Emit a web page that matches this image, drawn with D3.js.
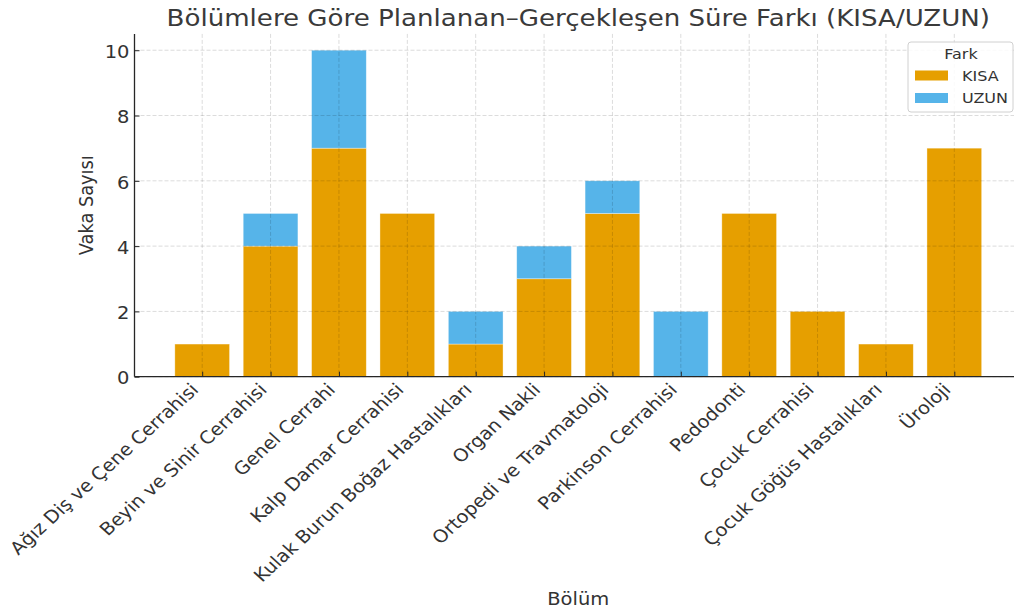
<!DOCTYPE html>
<html>
<head>
<meta charset="utf-8">
<script src="https://cdn.jsdelivr.net/npm/d3@7"></script>
<style>
  html, body { margin: 0; padding: 0; background: #fff; }
  svg { display: block; }
  svg text { font-family: "DejaVu Sans", sans-serif; }
</style>
</head>
<body>
<svg id="chart" width="1014" height="611"></svg>
<script>
// Case counts per department, split by planned vs. actual duration difference
const departments = [
  "Ağız Diş ve Çene Cerrahisi",
  "Beyin ve Sinir Cerrahisi",
  "Genel Cerrahi",
  "Kalp Damar Cerrahisi",
  "Kulak Burun Boğaz Hastalıkları",
  "Organ Nakli",
  "Ortopedi ve Travmatoloji",
  "Parkinson Cerrahisi",
  "Pedodonti",
  "Çocuk Cerrahisi",
  "Çocuk Göğüs Hastalıkları",
  "Üroloji"
];
const kisa = [1, 4, 7, 5, 1, 3, 5, 0, 5, 2, 1, 7];
const uzun = [0, 1, 3, 0, 1, 1, 1, 2, 0, 0, 0, 0];
const seriesKeys = ["KISA", "UZUN"];
const seriesColors = ["#E69F00", "#56B4E9"];
const yTicks = [0, 2, 4, 6, 8, 10];

const titleText = "Bölümlere Göre Planlanan–Gerçekleşen Süre Farkı (KISA/UZUN)";
const xLabel = "Bölüm";
const yLabel = "Vaka Sayısı";
const legendTitle = "Fark";

const FONT = "'DejaVu Sans', sans-serif";
const svg = d3.select("#chart");
const textColor = "#333333";
// glyphs are drawn slightly compressed vertically (figure aspect)
const SQ = 0.91;

// plot frame (right edge extends past the canvas)
const plotLeft = 134.5, plotRight = 1022, plotTop = 33.9, plotBottom = 376.7;

const x = d3.scaleLinear().domain([-0.99, departments.length - 1 + 0.99]).range([plotLeft, plotRight]);
const y = d3.scaleLinear().domain([0, 10.5]).range([plotBottom, plotTop]);
const barW = x(0.8) - x(0);

const rows = departments.map((d, i) => ({ dep: d, KISA: kisa[i], UZUN: uzun[i], i }));
const stacked = d3.stack().keys(seriesKeys)(rows);
const color = d3.scaleOrdinal().domain(seriesKeys).range(seriesColors);

// bars
svg.append("g").selectAll("g")
  .data(stacked)
  .join("g")
  .attr("fill", d => color(d.key))
  .selectAll("rect")
  .data(d => d.filter(s => s[1] - s[0] > 0))
  .join("rect")
  .attr("x", d => x(d.data.i) - barW / 2)
  .attr("width", barW)
  .attr("y", d => y(d[1]))
  .attr("height", d => y(d[0]) - y(d[1]))
  .attr("stroke", "rgba(255,255,255,0.5)")
  .attr("stroke-width", 0.7);

// dashed grid drawn above the bars
const grid = svg.append("g")
  .attr("stroke", "rgba(0,0,0,0.16)")
  .attr("stroke-width", 0.9)
  .attr("stroke-dasharray", "4,2");
grid.selectAll("line.h").data(yTicks).join("line")
  .attr("class", "h")
  .attr("x1", plotLeft).attr("x2", plotRight)
  .attr("y1", d => y(d)).attr("y2", d => y(d));
grid.selectAll("line.v").data(departments.map((d, i) => i)).join("line")
  .attr("class", "v")
  .attr("x1", d => x(d)).attr("x2", d => x(d))
  .attr("y1", plotTop).attr("y2", plotBottom);

// y axis
const yAxis = svg.append("g")
  .attr("transform", `translate(${plotLeft},0)`)
  .call(d3.axisLeft(y).tickValues(yTicks).tickSize(-5).tickPadding(5).tickFormat(d3.format("d")))
  .attr("font-family", FONT);
yAxis.select(".domain").attr("stroke", "#262626").attr("stroke-width", 1.3).attr("d", `M0,${plotBottom}V${plotTop}`);
yAxis.selectAll(".tick line").attr("stroke", "#262626").attr("stroke-width", 1);
yAxis.selectAll(".tick text")
  .attr("fill", textColor)
  .style("font-size", "19.5px")
  .attr("dy", "0.41em")
  .attr("transform", `scale(1,${SQ})`);

// x axis
const xAxis = svg.append("g")
  .attr("transform", `translate(0,${plotBottom})`)
  .call(d3.axisBottom(x).tickValues(departments.map((d, i) => i)).tickSize(-5).tickFormat(i => departments[i]))
  .attr("font-family", FONT);
xAxis.select(".domain").attr("stroke", "#262626").attr("stroke-width", 1.3).attr("d", `M${plotLeft},0H${plotRight}`);
xAxis.selectAll(".tick line").attr("stroke", "#262626").attr("stroke-width", 1);
xAxis.selectAll(".tick text")
  .attr("fill", textColor)
  .style("font-size", "19.5px")
  .attr("text-anchor", "end")
  .attr("y", 0).attr("dy", 0)
  .attr("transform", `translate(-3,14) scale(1,${SQ}) rotate(-45)`);

// axis titles
svg.append("text")
  .attr("transform", `translate(${(plotLeft + plotRight) / 2},605) scale(1,${SQ})`)
  .attr("text-anchor", "middle")
  .attr("fill", textColor)
  .style("font-size", "19.5px")
  .text(xLabel);

svg.append("text")
  .attr("transform", `translate(92.5,${(plotTop + plotBottom) / 2}) scale(1,${SQ}) rotate(-90)`)
  .attr("text-anchor", "middle")
  .attr("fill", textColor)
  .style("font-size", "19.5px")
  .text(yLabel);

// chart title
svg.append("text")
  .attr("transform", `translate(${(plotLeft + plotRight) / 2},26) scale(1,${SQ})`)
  .attr("text-anchor", "middle")
  .attr("fill", "#3a3a3a")
  .style("font-size", "26.1px")
  .text(titleText);

// legend
const lg = svg.append("g");
lg.append("rect")
  .attr("x", 908).attr("y", 42).attr("width", 105).attr("height", 70)
  .attr("rx", 3)
  .attr("fill", "rgba(255,255,255,0.85)")
  .attr("stroke", "#d0d0d0");
lg.append("text")
  .attr("transform", `translate(961,58.5) scale(1,${SQ})`)
  .attr("text-anchor", "middle")
  .attr("fill", textColor)
  .style("font-size", "16px")
  .text(legendTitle);
const items = lg.selectAll("g.item").data(seriesKeys).join("g")
  .attr("class", "item")
  .attr("transform", (d, i) => `translate(0,${75.5 + i * 22.5})`);
items.append("rect")
  .attr("x", 915).attr("y", -5).attr("width", 33).attr("height", 10)
  .attr("fill", d => color(d));
items.append("text")
  .attr("transform", `translate(962,0) scale(1,${SQ})`)
  .attr("dy", "0.36em")
  .attr("fill", textColor)
  .style("font-size", "16px")
  .text(d => d);
</script>
</body>
</html>
